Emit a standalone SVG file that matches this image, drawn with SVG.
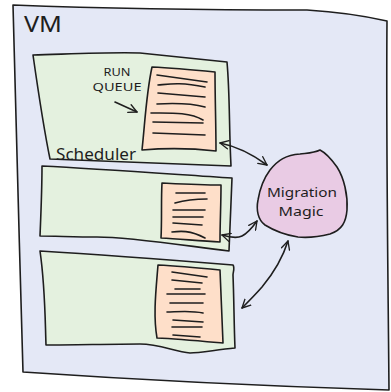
<svg xmlns="http://www.w3.org/2000/svg" width="391" height="392" viewBox="0 0 391 392">
<style>
.o{stroke:#1e1e1e;stroke-width:1.6;stroke-linejoin:round;stroke-linecap:round}
.vm{fill:#e4e8f6}
.sch{fill:#e4f1df}
.q{fill:#fedfc9}
.blob{fill:#e9cbe4}
.ln{fill:none;stroke:#1e1e1e;stroke-width:1.6;stroke-linecap:round}
.t{font-family:"Noto Sans","DejaVu Sans",sans-serif;fill:#1e1e1e}
</style>
<defs>
<marker id="ah" viewBox="0 0 12 12" refX="11" refY="6" markerWidth="10" markerHeight="10" markerUnits="userSpaceOnUse" orient="auto-start-reverse">
<path d="M1,1 L11,6 L1,11" fill="none" stroke="#1e1e1e" stroke-width="1.6" stroke-linecap="round" stroke-linejoin="round"/>
</marker>
</defs>
<g id="vm">
<path class="o vm" d="M13,5 C90,8 200,10 307,10 C340,12 365,16 387,21 C386,140 388,270 389,390 C260,386 140,380 23,372 C20,250 15,120 13,5 Z"/>
<text class="t" x="24" y="32" font-size="21" textLength="38" lengthAdjust="spacingAndGlyphs">VM</text>
</g>
<g id="scheduler1">
<path class="o sch" d="M33,55 C70,54 110,52 140,53 C170,56 200,59 227,62 C230,95 229,130 231,166 C170,164 110,161 50,159 C43,125 38,90 33,55 Z"/>
<text class="t" x="56" y="160" font-size="16" textLength="80" lengthAdjust="spacingAndGlyphs">Scheduler</text>
</g>
<g id="queue1">
<path class="o q" d="M152,67 C175,68 195,70 215,72 C215,98 216,125 216,151 C190,148 165,148 142,150 C145,123 146,95 152,67 Z"/>
<path class="ln" d="M157,75 L207,82 M158,85 C170,84 180,82 205,87 M158,93 L205,97 M157,104 C175,103 190,103 205,107 M151,113 C170,113 190,112 203,120 M153,122 L203,123 M153,133 L205,135"/>
</g>
<g id="runqueue-label">
<text class="t" x="117" y="76" font-size="11" text-anchor="middle" textLength="27" lengthAdjust="spacingAndGlyphs">RUN</text>
<text class="t" x="117" y="91" font-size="11" text-anchor="middle" textLength="49" lengthAdjust="spacingAndGlyphs">QUEUE</text>
<path class="ln" d="M115,102 L137,112" marker-end="url(#ah)"/>
</g>
<g id="scheduler2">
<path class="o sch" d="M42,166 C100,169 170,174 232,178 C231,202 230,228 229,251 C180,245 130,237 97,237 C75,237 55,236 40,236 C41,212 42,190 42,166 Z"/>
</g>
<g id="queue2">
<path class="o q" d="M162,183 C182,184 200,185 221,185 C221,205 220,222 220,242 C200,241 180,239 161,238 C162,220 161,200 162,183 Z"/>
<path class="ln" d="M176,193 L205,193 M175,203 C182,201 190,199 207,199 M173,210 L205,210 M173,217 L203,217 M173,223 L202,225 M172,232 C180,231 190,230 205,238"/>
</g>
<g id="scheduler3">
<path class="o sch" d="M40,251 C105,255 170,260 233,265 C235,268 233,272 233,275 C234,300 234,325 235,348 C215,350 200,353 190,353 C175,352 160,344 140,344 C110,344 75,345 46,345 C45,315 45,285 40,251 Z"/>
</g>
<g id="queue3">
<path class="o q" d="M158,265 C180,266 200,268 220,270 C221,295 222,320 223,343 C200,341 178,339 157,338 C153,315 156,290 158,265 Z"/>
<path class="ln" d="M172,272 L207,277 M172,280 L202,283 M175,289 L200,289 M167,294 L205,294 M170,303 L203,303 M167,312 C175,312 190,310 203,313 M173,320 L203,322 M172,327 L202,327 M173,335 L200,337"/>
</g>
<g id="migration-magic">
<path class="o blob" d="M270,170 C278,160 286,155 300,154 C308,153 314,153 320,150 C326,153 332,160 337,167 C344,178 348,195 347,210 C346,222 342,230 330,234 C318,237 308,238 298,237 C285,235 273,230 265,225 C258,220 256,210 258,200 C260,188 264,178 270,170 Z"/>
<text class="t" x="302" y="197" font-size="13" text-anchor="middle" textLength="70" lengthAdjust="spacingAndGlyphs">Migration</text>
<text class="t" x="301" y="216" font-size="13" text-anchor="middle" textLength="45" lengthAdjust="spacingAndGlyphs">Magic</text>
</g>
<g id="connectors">
<path class="ln" d="M220,143 C235,146 252,154 267,165" marker-start="url(#ah)" marker-end="url(#ah)"/>
<path class="ln" d="M222,235 C232,238 238,238 242,236 C248,233 252,228 257,221" marker-start="url(#ah)" marker-end="url(#ah)"/>
<path class="ln" d="M288,241 C282,260 272,275 262,287 C255,295 248,302 242,308" marker-start="url(#ah)" marker-end="url(#ah)"/>
</g>
</svg>
